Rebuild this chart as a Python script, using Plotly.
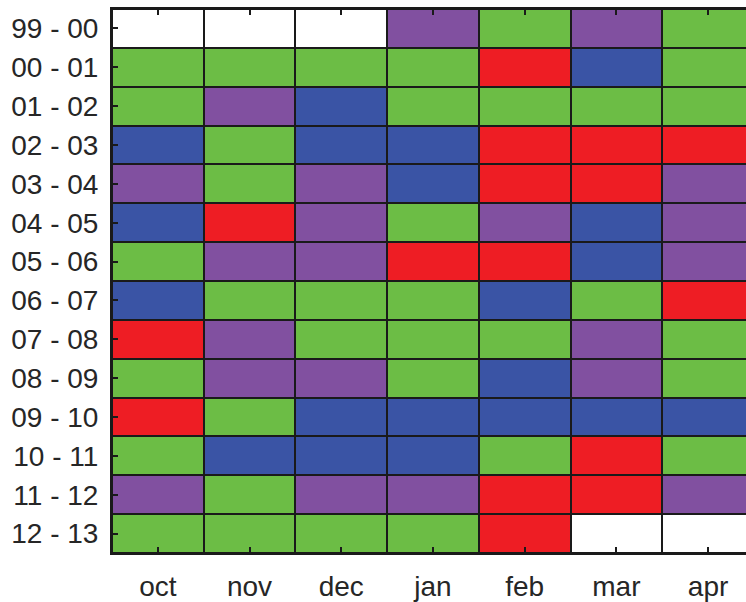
import plotly.graph_objects as go

# Season rows (top to bottom) and month columns
seasons = ["99 - 00", "00 - 01", "01 - 02", "02 - 03", "03 - 04", "04 - 05", "05 - 06",
           "06 - 07", "07 - 08", "08 - 09", "09 - 10", "10 - 11", "11 - 12", "12 - 13"]
months = ["oct", "nov", "dec", "jan", "feb", "mar", "apr"]

# Category per cell: 0 = no data, 1 = green, 2 = purple, 3 = blue, 4 = red
classes = [
    [0, 0, 0, 2, 1, 2, 1],
    [1, 1, 1, 1, 4, 3, 1],
    [1, 2, 3, 1, 1, 1, 1],
    [3, 1, 3, 3, 4, 4, 4],
    [2, 1, 2, 3, 4, 4, 2],
    [3, 4, 2, 1, 2, 3, 2],
    [1, 2, 2, 4, 4, 3, 2],
    [3, 1, 1, 1, 3, 1, 4],
    [4, 2, 1, 1, 1, 2, 1],
    [1, 2, 2, 1, 3, 2, 1],
    [4, 1, 3, 3, 3, 3, 3],
    [1, 3, 3, 3, 1, 4, 1],
    [2, 1, 2, 2, 4, 4, 2],
    [1, 1, 1, 1, 4, 0, 0],
]

palette = ["#ffffff", "#6cbd45", "#8150a0", "#3a54a5", "#ee1d24"]
n = len(palette)
colorscale = []
for i, c in enumerate(palette):
    colorscale.append([i / n, c])
    colorscale.append([(i + 1) / n, c])

fig = go.Figure(go.Heatmap(
    z=classes,
    x=months,
    y=seasons,
    zmin=-0.5,
    zmax=n - 0.5,
    colorscale=colorscale,
    showscale=False,
    xgap=2,
    ygap=2,
    hoverinfo="skip",
))

W, H = 746, 602
ml, mr, mt, mb = 112, 0, 9, 36
col_w = 91.7
visible_cols = (W - ml - mr) / col_w

tick_font = dict(family="Liberation Sans, Arial, sans-serif", size=28, color="#262626")

fig.update_layout(
    width=W,
    height=H,
    margin=dict(l=ml, r=mr, t=mt, b=mb, pad=0),
    paper_bgcolor="white",
    plot_bgcolor="#1a1a1a",
    xaxis=dict(
        type="category",
        range=[-0.5, -0.5 + visible_cols],
        showgrid=False,
        zeroline=False,
        showline=True,
        mirror="ticks",
        linecolor="#1a1a1a",
        linewidth=2,
        ticks="inside",
        ticklen=6,
        tickwidth=1.5,
        tickcolor="#1a1a1a",
        tickfont=tick_font,
        ticklabelstandoff=7,
        layer="above traces",
    ),
    yaxis=dict(
        type="category",
        range=[len(seasons) - 0.5, -0.5],
        showgrid=False,
        zeroline=False,
        showline=True,
        linecolor="#1a1a1a",
        linewidth=2,
        ticks="inside",
        ticklen=6,
        tickwidth=1.5,
        tickcolor="#1a1a1a",
        tickfont=tick_font,
        ticklabelstandoff=6,
        layer="above traces",
    ),
)

fig.write_html("out.html")
